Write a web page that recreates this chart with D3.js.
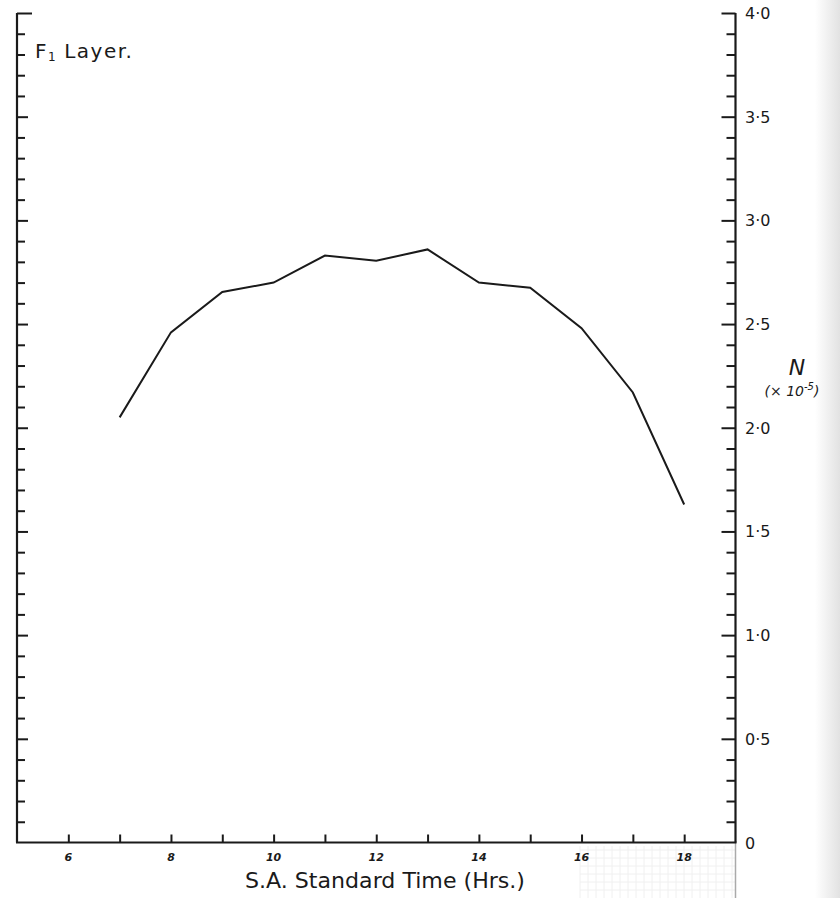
<!DOCTYPE html>
<html>
<head>
<meta charset="utf-8">
<script src="https://cdn.jsdelivr.net/npm/d3@7"></script>
<style>
  body { margin: 0; background: #ffffff; }
  svg { display: block; }
</style>
</head>
<body>
<div id="charts"></div>
<script>
// hours of the day (S.A. standard time)
let hours = [7, 8, 9, 10, 11, 12, 13, 14, 15, 16, 17, 18];
// electron density N (x 10^-5), F1 layer
let density = [2.05, 2.46, 2.655, 2.70, 2.83, 2.805, 2.86, 2.70, 2.675, 2.48, 2.17, 1.63];
let xTickLabels = [6, 8, 10, 12, 14, 16, 18];
let yTickLabels = [0, 0.5, 1.0, 1.5, 2.0, 2.5, 3.0, 3.5, 4.0];

let data = hours.map(function (h, i) { return { time: h, n: density[i] }; });

let w = 840;
let h = 898;
let xLeft = 17, xRight = 735.5, yTop = 13, yBottom = 842.5;

let viz = d3.select("#charts")
  .append("svg")
  .attr("width", w)
  .attr("height", h);

// scan shading on the right edge
let defs = viz.append("defs");
let grad = defs.append("linearGradient").attr("id", "edge");
grad.append("stop").attr("offset", "0%").attr("stop-color", "#ffffff");
grad.append("stop").attr("offset", "100%").attr("stop-color", "#e2e2e2");
viz.append("rect")
  .attr("x", 815).attr("y", 0)
  .attr("width", 25).attr("height", h)
  .attr("fill", "url(#edge)");

let xScale = d3.scaleLinear().domain([5, 19]).range([xLeft, xRight]);
let yScale = d3.scaleLinear().domain([0, 4]).range([yBottom, yTop]);

// faint graph paper below the axis
let paper = viz.append("g").attr("stroke", "#f0f0f0").attr("stroke-width", 1);
d3.range(580, 736, 8).forEach(function (x) {
  paper.append("line").attr("x1", x).attr("x2", x).attr("y1", 846).attr("y2", h);
});
d3.range(850, h, 8).forEach(function (y) {
  paper.append("line").attr("x1", 580).attr("x2", 735).attr("y1", y).attr("y2", y);
});
viz.append("line")
  .attr("x1", xRight).attr("x2", xRight)
  .attr("y1", yBottom).attr("y2", h)
  .attr("stroke", "#aaa").attr("stroke-width", 1.5);

let minorY = d3.range(1, 41).map(function (d) { return d / 10; });
let isMajor = function (d) { return Math.abs(d * 2 - Math.round(d * 2)) < 1e-6; };

// right axis, ticks pointing inward
let yAxisR = d3.axisRight(yScale)
  .tickValues(minorY)
  .tickSize(0)
  .tickFormat("");
let yAxisRGroup = viz.append("g")
  .attr("transform", "translate(" + xRight + ",0)")
  .call(yAxisR);
yAxisRGroup.select(".domain").remove();
yAxisRGroup.selectAll(".tick line")
  .attr("x1", function (d) { return isMajor(d) ? -14 : -9; })
  .attr("x2", 0)
  .attr("stroke", "#1a1a1a")
  .attr("stroke-width", 2);

// left axis, ticks pointing inward
let yAxisL = d3.axisLeft(yScale)
  .tickValues(minorY)
  .tickSize(0)
  .tickFormat("");
let yAxisLGroup = viz.append("g")
  .attr("transform", "translate(" + xLeft + ",0)")
  .call(yAxisL);
yAxisLGroup.select(".domain").remove();
yAxisLGroup.selectAll(".tick line")
  .attr("x1", 0)
  .attr("x2", function (d) { return d === 4 ? 15 : (isMajor(d) ? 11 : 8); })
  .attr("stroke", "#1a1a1a")
  .attr("stroke-width", 2);

// bottom axis, hourly ticks pointing up
let xAxis = d3.axisBottom(xScale)
  .tickValues(d3.range(6, 19))
  .tickSize(0)
  .tickFormat("");
let xAxisGroup = viz.append("g")
  .attr("transform", "translate(0," + yBottom + ")")
  .call(xAxis);
xAxisGroup.select(".domain").remove();
xAxisGroup.selectAll(".tick line")
  .attr("y1", -8)
  .attr("y2", 0)
  .attr("stroke", "#1a1a1a")
  .attr("stroke-width", 2);

// frame lines
let frame = viz.append("g").attr("stroke", "#1a1a1a").attr("stroke-width", 2.2).attr("fill", "none");
frame.append("line").attr("x1", xLeft).attr("x2", xLeft).attr("y1", yTop).attr("y2", yBottom);
frame.append("line").attr("x1", xRight).attr("x2", xRight).attr("y1", yTop).attr("y2", yBottom);
frame.append("line").attr("x1", xLeft - 1).attr("x2", xRight + 1).attr("y1", yBottom).attr("y2", yBottom);

// tick labels
viz.append("g").selectAll("text")
  .data(xTickLabels)
  .enter()
  .append("text")
  .attr("x", function (d) { return xScale(d); })
  .attr("y", 861)
  .attr("text-anchor", "middle")
  .attr("font-family", "DejaVu Sans")
  .attr("font-style", "italic")
  .attr("font-weight", "bold")
  .attr("font-size", 11)
  .attr("fill", "#1a1a1a")
  .text(function (d) { return d; });

viz.append("g").selectAll("text")
  .data(yTickLabels)
  .enter()
  .append("text")
  .attr("x", 745)
  .attr("y", function (d) { return yScale(d) + 6; })
  .attr("font-family", "DejaVu Sans")
  .attr("font-size", 16)
  .attr("fill", "#1a1a1a")
  .text(function (d) { return d === 0 ? "0" : d.toFixed(1).replace(".", "\u00b7"); });

// the curve
let line = d3.line()
  .x(function (d) { return xScale(d.time); })
  .y(function (d) { return yScale(d.n); });
viz.append("path")
  .datum(data)
  .attr("d", line)
  .attr("fill", "none")
  .attr("stroke", "#1a1a1a")
  .attr("stroke-width", 2);

// titles
let title = viz.append("text")
  .attr("x", 35)
  .attr("y", 58)
  .attr("font-family", "DejaVu Sans")
  .attr("font-size", 20)
  .attr("letter-spacing", 1.5)
  .attr("fill", "#1a1a1a");
title.append("tspan").text("F");
title.append("tspan").attr("font-size", 12).attr("dy", 3).text("1");
title.append("tspan").attr("dy", -3).attr("dx", 7).text("Layer.");

viz.append("text")
  .attr("x", 385)
  .attr("y", 888)
  .attr("text-anchor", "middle")
  .attr("font-family", "DejaVu Sans")
  .attr("font-size", 21)
  .attr("textLength", 280)
  .attr("lengthAdjust", "spacingAndGlyphs")
  .attr("fill", "#1a1a1a")
  .text("S.A. Standard Time (Hrs.)");

viz.append("text")
  .attr("x", 797)
  .attr("y", 375)
  .attr("text-anchor", "middle")
  .attr("font-family", "DejaVu Sans")
  .attr("font-style", "italic")
  .attr("font-size", 22)
  .attr("fill", "#1a1a1a")
  .text("N");

let unit = viz.append("text")
  .attr("x", 792)
  .attr("y", 396)
  .attr("text-anchor", "middle")
  .attr("font-family", "DejaVu Sans")
  .attr("font-style", "italic")
  .attr("font-size", 14)
  .attr("fill", "#1a1a1a");
unit.append("tspan").text("(\u00d7 10");
unit.append("tspan").attr("dy", -6).attr("font-size", 10).text("-5");
unit.append("tspan").attr("dy", 6).text(")");
</script>
</body>
</html>
